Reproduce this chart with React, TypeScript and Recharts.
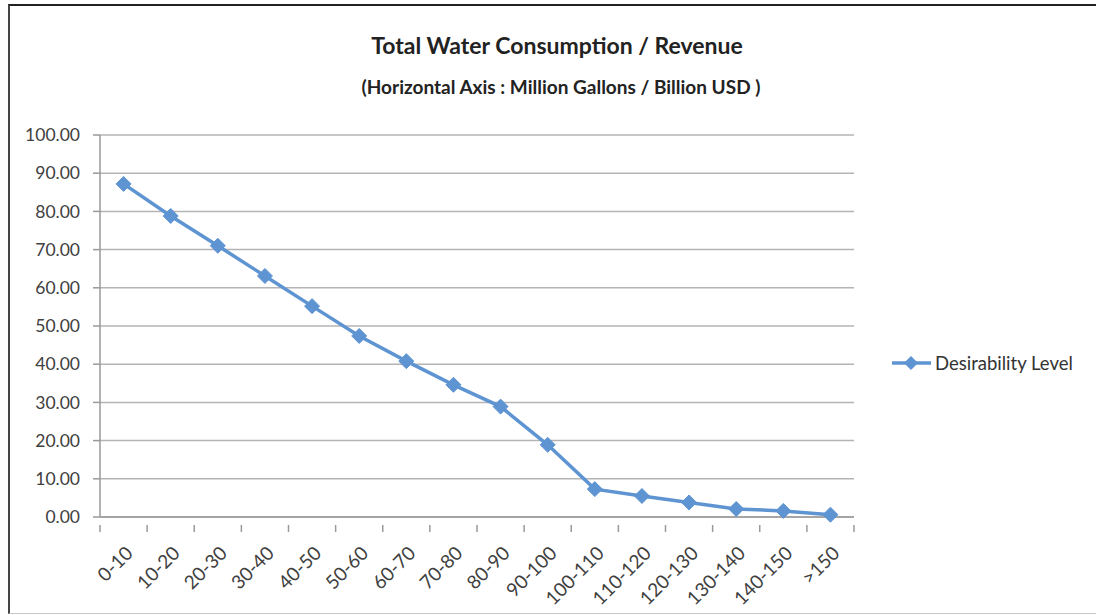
import { LineChart, Line, XAxis, YAxis, CartesianGrid } from "recharts";

const categories = [
  "0-10", "10-20", "20-30", "30-40", "40-50", "50-60", "60-70", "70-80",
  "80-90", "90-100", "100-110", "110-120", "120-130", "130-140", "140-150", ">150",
];
const desirability = [87.2, 78.8, 71.0, 63.1, 55.2, 47.4, 40.8, 34.6, 28.9, 18.9, 7.3, 5.5, 3.8, 2.1, 1.6, 0.6];
const yTicks = [0, 10, 20, 30, 40, 50, 60, 70, 80, 90, 100];
const seriesName = "Desirability Level";

const chartData = categories.map((range, i) => ({ range, value: desirability[i] }));

const W = 1096;
const H = 615;
const margin = { top: 135, right: 242, bottom: 0, left: 0 };
const Y_AXIS_W = 100;
const X_AXIS_H = 98;
const PLOT_W = W - Y_AXIS_W - margin.right;
const HALF_BAND = PLOT_W / categories.length / 2;

const BLUE = "#5e94d2";
const FONT = "Lato, 'Liberation Sans', sans-serif";

const Diamond = (props: any) => {
  const { cx, cy } = props;
  if (cx == null || cy == null) return null;
  const r = 7.5;
  return <polygon points={`${cx},${cy - r} ${cx + r},${cy} ${cx},${cy + r} ${cx - r},${cy}`} fill={BLUE} stroke={BLUE} />;
};

// Excel-style tick marks sit between categories, labels at -45deg
const XTick = (props: any) => {
  const { x, y, payload, index } = props;
  const last = index === categories.length - 1;
  const tx = x + 7;
  const ty = y + 26;
  return (
    <g>
      <line x1={x - HALF_BAND} y1={y} x2={x - HALF_BAND} y2={y + 7} stroke="#9a9a9a" strokeWidth={1.5} />
      {last && <line x1={x + HALF_BAND} y1={y} x2={x + HALF_BAND} y2={y + 7} stroke="#9a9a9a" strokeWidth={1.5} />}
      <text
        x={tx}
        y={ty}
        transform={`rotate(-45, ${tx}, ${ty})`}
        textAnchor="end"
        dominantBaseline="middle"
        fontSize={19}
        fontFamily={FONT}
        fill="#404040"
      >
        {payload.value}
      </text>
    </g>
  );
};

export default function App() {
  return (
    <div style={{ position: "relative", width: W, height: H, background: "#fff", overflow: "hidden" }}>
      <style>{`body{margin:0}`}</style>
      <div
        style={{
          position: "absolute",
          left: 8,
          top: 4,
          width: 1100,
          height: 607,
          borderTop: "2px solid #222",
          borderLeft: "2px solid #444",
          borderBottom: "1px solid #c8c8c8",
        }}
      />
      <div style={{ position: "absolute", left: 0, width: 1114, top: 31, textAlign: "center", fontFamily: FONT, fontWeight: 700, fontSize: 23, color: "#222" }}>
        Total Water Consumption / Revenue
      </div>
      <div style={{ position: "absolute", left: 0, width: 1122, top: 75, textAlign: "center", fontFamily: FONT, fontWeight: 700, fontSize: 19, color: "#222" }}>
        (Horizontal Axis : Million Gallons / Billion USD )
      </div>
      <LineChart width={W} height={H} data={chartData} margin={margin} style={{ position: "absolute", left: 0, top: 0 }}>
        <CartesianGrid vertical={false} stroke="#b4b4b4" strokeWidth={1.5} />
        <XAxis
          dataKey="range"
          interval={0}
          padding={{ left: HALF_BAND, right: HALF_BAND }}
          tickLine={false}
          axisLine={{ stroke: "#9a9a9a", strokeWidth: 1.5 }}
          tick={<XTick />}
          height={X_AXIS_H}
        />
        <YAxis
          width={Y_AXIS_W}
          domain={[0, 100]}
          ticks={yTicks}
          interval={0}
          tickFormatter={(v: number) => v.toFixed(2)}
          tick={{ fontSize: 17.5, fontFamily: FONT, fill: "#404040" }}
          tickSize={7}
          tickMargin={13}
          tickLine={{ stroke: "#9a9a9a", strokeWidth: 1.5 }}
          axisLine={{ stroke: "#9a9a9a", strokeWidth: 1.5 }}
        />
        <Line
          type="linear"
          dataKey="value"
          name={seriesName}
          stroke={BLUE}
          strokeWidth={3.5}
          dot={<Diamond />}
          activeDot={false}
          isAnimationActive={false}
        />
      </LineChart>
      <div
        style={{
          position: "absolute",
          left: 891,
          top: 352,
          display: "flex",
          alignItems: "center",
          fontFamily: FONT,
          fontSize: 18.5,
          color: "#333",
        }}
      >
        <svg width={42} height={16}>
          <line x1={1} y1={8} x2={40} y2={8} stroke={BLUE} strokeWidth={3.5} />
          <polygon points="20,1 27,8 20,15 13,8" fill={BLUE} />
        </svg>
        <span style={{ marginLeft: 2 }}>{seriesName}</span>
      </div>
    </div>
  );
}
